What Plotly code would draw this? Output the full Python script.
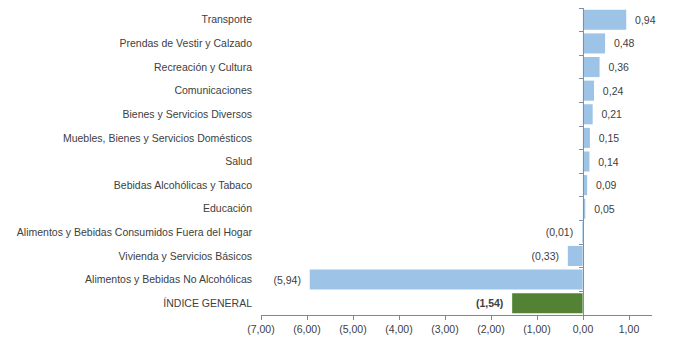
import plotly.graph_objects as go

categories = ["Transporte", "Prendas de Vestir y Calzado", "Recreación y Cultura",
              "Comunicaciones", "Bienes y Servicios Diversos",
              "Muebles, Bienes y Servicios Domésticos", "Salud",
              "Bebidas Alcohólicas y Tabaco", "Educación",
              "Alimentos y Bebidas Consumidos Fuera del Hogar",
              "Vivienda y Servicios Básicos", "Alimentos y Bebidas No Alcohólicas",
              "ÍNDICE GENERAL"]
values = [0.94, 0.48, 0.36, 0.24, 0.21, 0.15, 0.14, 0.09, 0.05, -0.01, -0.33, -5.94, -1.54]
xticks = [-7, -6, -5, -4, -3, -2, -1, 0, 1]


def fmt(v):
    s = f"{abs(v):.2f}".replace(".", ",")
    return f"({s})" if v < 0 else s


pad = "\u00a0\u00a0"
texts = [(pad + fmt(v)) if v >= 0 else (fmt(v) + pad) for v in values]
texts[-1] = "<b>" + fmt(values[-1]) + "</b>" + pad
colors = ["#9DC3E6"] * (len(values) - 1) + ["#548235"]

fig = go.Figure()
fig.add_trace(go.Bar(x=values, y=categories, orientation="h",
                     marker=dict(color=colors, line=dict(width=0)),
                     text=texts, textposition="outside", cliponaxis=False,
                     textfont=dict(size=10.5, color="#404040", family="Liberation Sans")))
fig.add_trace(go.Bar(x=[0] * len(categories), y=categories, orientation="h",
                     yaxis="y2", showlegend=False, hoverinfo="skip",
                     marker=dict(color="rgba(0,0,0,0)")))

zero_frac = (0 - (-7)) / (1.5 - (-7))
fig.update_layout(
    width=674, height=353,
    margin=dict(l=261, r=22, t=8, b=38),
    plot_bgcolor="white", paper_bgcolor="white",
    showlegend=False, bargap=0.15,
    font=dict(family="Liberation Sans", size=10.5, color="#404040"),
    xaxis=dict(range=[-7, 1.5], tickvals=xticks, ticktext=[fmt(v) for v in xticks],
               showgrid=False, zeroline=False, showline=True, linecolor="#868686",
               linewidth=1, ticks="outside", ticklen=4, tickcolor="#868686",
               tickfont=dict(size=10.5, color="#404040")),
    yaxis=dict(categoryorder="array", categoryarray=categories, autorange="reversed",
               showgrid=False, zeroline=False, showline=False, ticks="",
               ticklabelstandoff=8, tickfont=dict(size=10.5, color="#404040")),
    yaxis2=dict(overlaying="y", anchor="free", position=zero_frac,
                categoryorder="array", categoryarray=categories, autorange="reversed",
                showticklabels=False, showline=True, linecolor="#7F8FA6", linewidth=1,
                ticks="outside", tickson="boundaries", ticklen=4, tickcolor="#7F8FA6",
                showgrid=False, zeroline=False),
)

fig.write_html("out.html")
